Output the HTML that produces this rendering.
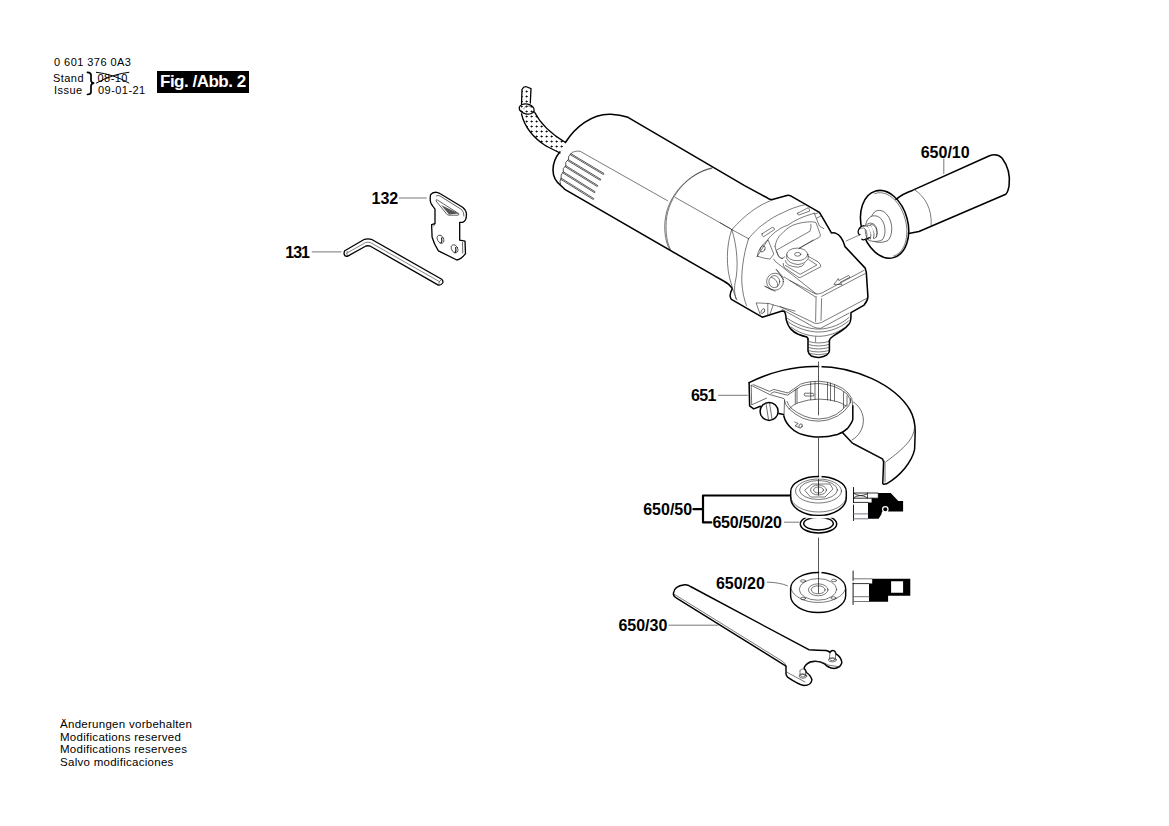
<!DOCTYPE html>
<html><head><meta charset="utf-8">
<style>
html,body{margin:0;padding:0;background:#fff;width:1169px;height:826px;overflow:hidden}
.t{position:absolute;font-family:"Liberation Sans",sans-serif;color:#000;white-space:nowrap;line-height:1}
.s{font-size:11px;letter-spacing:0.45px}
.b{font-size:16px;font-weight:bold}
svg{position:absolute;left:0;top:0}
</style></head><body>
<div class="t s" style="left:54px;top:57px">0 601 376 0A3</div>
<div class="t s" style="left:53px;top:73px">Stand</div>
<div class="t s" style="left:54px;top:85px">Issue</div>
<div class="t s" style="left:97.5px;top:73px">08-10</div>
<div class="t s" style="left:98px;top:85px">09-01-21</div>
<div style="position:absolute;left:157px;top:71px;width:92px;height:22px;background:#000"></div>
<div class="t" style="left:160px;top:73px;font-size:17px;font-weight:bold;color:#fff;letter-spacing:-0.5px">Fig. /Abb. 2</div>
<div class="t" style="left:60px;top:718px;line-height:12.7px;font-size:11.5px;letter-spacing:0.28px">Änderungen vorbehalten<br>Modifications reserved<br>Modifications reservees<br>Salvo modificaciones</div>
<div class="t b" style="left:371.5px;top:191px;">132</div>
<div class="t b" style="left:285.3px;top:245.2px;letter-spacing:-1px;">131</div>
<div class="t b" style="left:920.7px;top:144.5px;">650/10</div>
<div class="t b" style="left:691px;top:388.4px;letter-spacing:-0.7px;">651</div>
<div class="t b" style="left:643.2px;top:501.9px;">650/50</div>
<div class="t b" style="left:712.4px;top:515.2px;letter-spacing:-0.2px;">650/50/20</div>
<div class="t b" style="left:715.9px;top:575.9px;">650/20</div>
<div class="t b" style="left:618.4px;top:618.1px;">650/30</div>
<svg width="1169" height="826" viewBox="0 0 1169 826" fill="none" stroke="#000" stroke-linejoin="round" stroke-linecap="round">
<!-- brace -->
<path d="M87.4,72.3 Q91,72.5 91,75 L91,80.4 Q91.2,82.8 93.6,83.2 Q91.2,83.6 91,86 L91,92 Q91,94.4 87.4,94.5" stroke-width="1.7"/>
<path d="M96.4,72.3 Q113,74 128.9,83 M96.4,83 Q113,74 128.9,72.3" stroke-width="1"/>
<!-- cord -->
<defs><pattern id="dots" width="5" height="5" patternUnits="userSpaceOnUse"><circle cx="1.5" cy="1.5" r="0.55" fill="#aab"/></pattern></defs>
<path d="M522,114 Q526,133 546,146 L560,153 L565.5,142.5 Q543,129 534.5,112 Z M522,104 L522,89.5 L531,88.7 L530.3,103 Z M519.5,109 A7.5,5 0 0 1 534.5,109 A7.5,5 0 0 1 519.5,109 Z" fill="url(#dots)" stroke="none"/>

<g stroke-width="1.3">
<path d="M521.5,104.5 L522,89.5 Q524,85.8 527,87 L531,88.7 L530.3,103"/>
<ellipse cx="526.7" cy="109" rx="7.6" ry="4.9" transform="rotate(12 526.7 109)"/>
<path d="M521.5,114 Q526,133 546,146 L560,153"/>
<path d="M534.5,112 Q543,129 565.5,142.5"/>
</g>
<g stroke-width="0.6" stroke="#444">
<path d="M523.5,109 Q526,104 531,107"/>
</g>
<!-- body outline -->
<g stroke-width="1.55">
<path d="M565.4,142.5 C575,127 592,113.5 610.8,114.2 Q620,114.5 628,117.3 L745,185.9 L767.2,197.8 Q770,199.8 772.4,199.5 L787.8,195.3 Q789,195.2 790.3,195.7 L819.4,212.4 L822,216.7 L831.4,232.9 Q833,232.5 835,232.9 Q839,234.5 840.8,237.2 Q843.5,241 845,246.6 L865.2,268.1 L866.3,272.4 L867.9,296.4 Q867.8,300.5 864.1,305.1 L851,312.7 Q850.9,316 850.9,318.2 Q850,324 849,324 Q846,328 841.8,330.5 Q838,333 833.8,335.6 Q830,338 829.4,340.7"/>
<path d="M559.7,152 C551,163 550,178 561.2,185.8 L565.2,189.7 L715,276.2 Q726,282 728.7,284.4 Q732.5,288 732.1,289.2 Q730,293 730.1,296 Q730.5,298.5 731.4,299.4 L762.2,317.2 L782.1,311.1 L784.4,311.6 Q785.8,313 786.2,319.6 Q788,326 790.9,329.1 Q794,332.5 798.2,334.2 Q803,336 806.9,337.1 Q808,338 808,339.2"/>
<path d="M808,339.2 L808,350.9 Q808.5,354.5 811.3,356 Q815,357.6 819.2,357.4 Q824,357 826.5,355.2 Q829.4,353 829.4,350.9 L829.4,340.7"/>
</g>
<!-- vents -->
<g stroke-width="0.75" stroke="#222">
<path d="M570.9,153.7 L603.8,173.4 Q604.0999999999999,174.6 603.1999999999999,174.4 L570.3,154.7"/>
<path d="M568.3,159.6 L600.6,179.2 Q600.9,180.39999999999998 600.0,180.2 L567.6999999999999,160.6"/>
<path d="M565.8,165.7 L597.6,185.4 Q597.9,186.6 597.0,186.4 L565.1999999999999,166.7"/>
<path d="M563.3,171.8 L595.0,191.6 Q595.3,192.79999999999998 594.4,192.6 L562.6999999999999,172.8"/>
<path d="M561.2,178.2 L593.6,198.4 Q593.9,199.6 593.0,199.4 L560.6,179.2"/>
<path d="M572,152.8 Q567.5,155.5 568.3,159.6 Q564.5,162 565.8,165.7 Q562,168.5 563.3,171.8 Q560,175 561.2,178.2 Q559,181 560.5,184.5"/>
</g>
<g stroke-width="0.6" stroke="#222">
<path d="M572.5,152.2 Q576,150.5 580,151.2 L667.5,200.7"/>
<path d="M675.2,197.4 L730.4,228.6"/>
<path d="M712.9,167.6 C690,172 667,195 665,221.3 C664,233 666,243 669.4,249"/>
<path d="M711.5,168.5 C689,173 668,196 666.2,221.3 C665.5,233 667,243 670.5,249.5"/>
<path d="M720,222.7 L731.8,229.6"/>
<!-- head thin -->
<path d="M731.8,229.6 C745,215 758,205 772.4,200"/>
<path d="M731.8,229.6 L748.6,238.7"/>
<path d="M748.4,238.9 C754,232 760,226.5 762.1,225.2 C770,219 777,215 783.5,212.4 C790,209 798,206 804.9,204.7"/>
<path d="M768.1,238.9 C775,231 782,227 787.8,225.2 C795,220 803,216.5 811.7,214.1 L814.3,213.2"/>
<path d="M731.8,229.6 C726,245 726,268 731,283 C733,290 735,296 737,300"/>
<path d="M731.8,229.6 C737,245 739,268 735,283 C734,290 735,296 736,299"/>
<path d="M748.6,238.7 C743,255 741,275 742,285 C743,295 745,302 746.6,305.6"/>
<path d="M757.3,256.2 L768,239.7 L773.8,254.2 L769.9,259.1 Q764,258.5 757.3,256.2 Z"/>
<path d="M757.3,256.2 Q758,248 768,239.7"/>
<ellipse cx="762.6" cy="248.9" rx="2.3" ry="3.3" transform="rotate(30 762.6 248.9)"/>
<path d="M762.1,233.8 L772.4,227.3 Q774.5,227.5 774.5,229.5 L763.4,236.8 Q761.5,236 762.1,233.8Z"/>
<path d="M797.6,213.2 L808.3,207.7 Q809.6,209 809.6,211.1 L798.9,215 Q797,214.5 797.6,213.2Z"/>
<path d="M775,246.6 C776,241 778,237 780.9,234.6 C785,230 789,227 792.9,225.2 C800,222.5 806,221.8 811.7,221.8 Q814,221.8 816,222.6 L820.3,234.6 Q820.5,236.5 819.4,237.2 L798.9,248.3"/>
<path d="M776.7,250 L810,231.2 Q811.5,227 810.9,224.3"/>
<path d="M775,246.6 Q776,252 778.6,256.2 Q780,258.5 782.5,258.6"/>
<path d="M814.3,213.2 L819.4,226 L823.7,228.6"/>
<path d="M819.4,212.4 L815,214 M821,216 L817,218"/>
<path d="M773.8,259.1 L775,261.2 L816.4,294"/>
<path d="M776.7,269.7 L783.4,277.5"/><path d="M796.8,285 L815.4,296.9"/>
<path d="M765,286.2 L771.8,290"/>
<ellipse cx="775" cy="281.7" rx="8.4" ry="8.5"/>
<ellipse cx="774.3" cy="281.6" rx="5.4" ry="6"/>
<path d="M771.5,277.5 Q775.5,278 777.5,283.5 Q778,286 777,287"/>
<path d="M765,286.4 L775.2,291.2"/>
<ellipse cx="797.2" cy="254.4" rx="10.5" ry="6.3"/>
<ellipse cx="797.7" cy="254.3" rx="3.1" ry="1.9"/>
<path d="M786.7,254.7 L786.7,258.5 Q789,263.5 797.9,264.5 Q805,264 808.2,258.5 L808.2,254.4"/>
<path d="M785.3,260.7 Q786,266.5 797.9,267.2 Q802,267 804.4,264"/>
<path d="M783.2,263.4 Q783,266.5 785,268 L799,277.6 Q801,277.5 802.2,276.5 L820.8,266.7 Q821,264 818,261.8 L808.2,256.3"/>
<path d="M785.5,265.5 L800.1,274.3 L816.9,265 L808.8,259.6"/>
<path d="M776.1,269.4 L783.7,279.8"/>
<path d="M784.3,277 L796.8,285"/>
<path d="M776.6,250.9 Q778,257 781,258.5 Q783,258.5 784.8,256.9"/>
<path d="M799.5,248.2 L813.1,240"/>
<path d="M834.1,284 L838.3,278.6 L838.8,280.6 L848.6,275.4 L850,277.2 L840.3,282.3 L841.8,284.3 Z"/>
<path d="M790,280.6 L815.1,293.7 Q818,294.5 821.6,293.1 L864.1,270.3"/>
<path d="M821.6,296.4 L865.2,273.5"/>
<path d="M816.1,296.4 L815.6,321.5"/><path d="M821.6,298.6 L821,320.4"/>
<path d="M780,306.5 L814.9,323.3 Q818,324 821.4,322.5 L866.3,298.6"/><path d="M782.2,309.4 L813.4,326.9 Q817,328.5 820.7,328.3 L849,313.1"/>
<path d="M787.3,318.2 C795,324 808,329.1 818.5,329.1 C830,329.1 842,324 849,317.4"/>
<path d="M787.8,321.5 C795,327.5 808,332 818.5,332 C830,332 841,327.5 848.5,321"/>
<path d="M791,327 C798,332.5 808,336.3 818.5,336.3 C828,336.3 837,333 844,328"/>
<path d="M808.5,341.5 Q818.5,344.5 829,341.5"/><path d="M808.3,344.5 Q818.5,347.5 829,344.5"/><path d="M808.2,347.5 Q818.5,350.5 829,347.5"/><path d="M808.2,350.5 Q818.5,353.5 829,350.5"/><path d="M809,353.5 Q818.5,356 828.5,353.5"/>
<path d="M815.6,337 L815.6,341.5"/>
<path d="M760.2,314.5 L756.1,302.9 L769.1,303.5 L773.2,304.9 L795,311.1"/>
<path d="M773.2,304.9 L769.5,315.5 M767.8,303.5 L767.8,315.8"/>
<ellipse cx="762.9" cy="311.1" rx="1.5" ry="2.6" transform="rotate(30 762.9 311.1)"/>

</g>
<!-- hex key 131 -->
<g stroke-width="1.3">
<path d="M344.8,250.7 L364.5,239.3 Q368,238.3 371.4,239.3 L441.7,279.2 Q443.5,281 442.7,283 Q441,285.5 438.3,285.1 L370.4,246.2 Q367.5,245.3 365.5,246.2 L347.8,256.1 Q345,256.8 344.2,254.5 Q343.8,252 344.8,250.7 Z"/>
</g>
<g stroke-width="0.6" stroke="#333"><path d="M346.5,253.3 L365.5,242.6 Q368,241.8 370.5,242.6 L439.8,281.8"/><path d="M438.8,284.8 Q437.8,281.5 441.5,279.5"/><path d="M347.6,256 Q346,253.5 347.2,251.5"/></g>
<!-- plate 132 -->
<g stroke-width="1.3">
<path d="M430.6,194.7 Q432.5,192 436.5,192.3 Q438.5,192.5 440.3,193.7 L462.6,207.3 Q466,210 466.5,214 Q466.5,218 465.5,219.8 Q464,221.8 462.6,222.3 L459.7,222.3 L459.7,240.2 L465,241.1 L465.5,253.7 Q461,259.5 456.8,260 L438.4,250.8 Q434,244 432.1,237.3 L431.6,224.7 L435,223.7 L435,209.2 Q431,204 430.6,202.4 Q429.8,199 430.6,194.7 Z"/>
</g>
<path d="M441,205 L458.7,213.6 L449,214.5 Z" fill="#555" stroke="none"/>
<g stroke-width="0.7" stroke="#222">
<path d="M436,200.5 Q436,199 437.4,200 L458.7,213.6 Q459.5,215 458,215.2 L449,215.2 Q447.5,215.5 446.5,214 Z"/>
<path d="M436.5,195.8 Q438,195 440,196 L461.5,209.5 Q464,212 464,216"/>
<ellipse cx="440.5" cy="239.2" rx="3" ry="4.3" transform="rotate(-25 440.5 239.2)"/>
<ellipse cx="454.6" cy="248.8" rx="3" ry="4.3" transform="rotate(-25 454.6 248.8)"/>
<path d="M441.5,238 Q442.5,241 441,243 M455.6,247.6 Q456.6,250.6 455.1,252.6" stroke-width="1.2"/>
<path d="M462.5,242.5 L462.8,253"/>
<path d="M434.5,224.5 L433.8,226"/>
</g>
<!-- leaders -->
<g stroke-width="0.8" stroke="#555">
<path d="M399.3,198 L426.3,198"/>
<path d="M312.2,251.9 L341,251.9"/>
<path d="M943.8,159 L943.8,173.5"/>
<path d="M718.5,395.3 L747.4,395.3"/>
<path d="M784.4,522.2 L799,522.2"/>
<path d="M767.2,582.1 Q780,582.5 787.5,585.8"/>
<path d="M669,625.2 L717.9,625.2"/>
</g>
<g stroke-width="2.2" fill="none">
<path d="M790.6,495.5 L703,495.5 L703,522.4 L711.2,522.4"/>
<path d="M693.4,509.2 L703,509.2"/>
</g>
<!-- handle 650/10 -->
<g stroke-width="1.55">
<path d="M896,199.3 Q903,193.5 912.4,190.4 L989.5,155.7 Q997,153 1002,158 Q1011,170 1009.1,185.6 Q1008,192 1005.8,194.3 L919,231.5 L908.6,233.6"/>
<ellipse cx="884.6" cy="224.3" rx="23.2" ry="34.5" transform="rotate(-15 884.6 224.3)"/>
</g>
<g stroke-width="0.6" stroke="#222">
<path d="M914.7,189.8 C925,197 932,208 931.2,225.3"/>
<path d="M874.7,193.7 L877.5,192.9 L880.5,192.7 L883.5,193.1 L886.6,194.1 L889.6,195.7 L892.6,197.9 L895.4,200.6 L897.9,203.7 L900.3,207.3 L902.3,211.2 L904.0,215.4 L905.3,219.7 L906.3,224.2 L906.8,228.6 L906.8,233.0 L906.5,237.2 L905.7,241.2 L904.6,244.8 L903.0,248.0 L901.1,250.8 L898.9,253.1 L896.4,254.9 L893.7,256.0"/>
</g>
<path d="M864.5,225 L871,222.5 L877,226 L877,238.5 L870,238.5 L862,240.5 L858.5,235 L858.5,228 Z" fill="#fff" stroke="none"/>
<g stroke-width="0.65" stroke="#222" fill="#fff">
<path d="M873,240.8 C868,236 868,218 874.5,212 C878,209 884,210 888,216 C893,223 893,235 888,240.5 C883,243 876,243 873,240.8 Z"/>
<path d="M868,239.7 C864,234 864,222 869.5,217.5 C873,214.5 879,215.5 882,220 C886,226 886,236 882,240 C878,242 871,242 868,239.7 Z"/>
<path d="M865.5,225.8 C868,222 874,222 876,227 C878,232 877.5,237 874.5,238.5"/>
<path d="M863.5,226.5 Q866.5,224.5 869.5,228.5 Q872,233 870.5,239"/>
<path d="M867.5,225.5 Q870.5,224 873,228.5 Q875,233 873.5,238.5"/>
<path d="M870.5,224.5 Q874,223.5 876,228 Q877.5,232 876.5,237"/>
</g>
<g stroke-width="1.3" fill="#fff">
<path d="M864.1,225.7 Q859,226.5 858.1,231.5 Q858.1,234 859.5,234.8 M861.9,239.3 Q863.5,240.8 869.5,237.7"/>
</g>
<g stroke-width="0.6" stroke="#333"><path d="M846.1,241 L860.8,234.4"/><path d="M860,229 Q864,226 866.5,231 Q868,236 866,239"/></g>
<!-- guard 651 -->
<g stroke-width="1.5">
<path d="M749.1,382.7 C770,372 795,366 816.3,366.4 C855,366 895,385 910,410 C914,417 915.2,425 915.2,432 L914.6,449.4 C912,462 900,476 886.5,483.8 Q882,485 882.8,482.3 L883.6,462 L882.5,458.8 L852,442.8 L842.5,432.5"/>
<path d="M749.1,382.7 L749.6,405.8 L753.7,408.9 L760.4,406.3"/>
<path d="M783.8,416 C786,425 795,433 802.5,434.5 C810,436.5 814,437.1 818.9,437.1 C826,437.1 832,436 837.4,434.5 C842,433 846,430 847.6,428.4 C851,424 852.8,421 852.8,419.1 L852.8,405.8"/>
<path d="M778.9,413.5 L783.5,414.5"/>
<circle cx="769.1" cy="411.4" r="9"/>
</g>
<g stroke-width="0.65" stroke="#222">
<path d="M751.2,385.3 L751.7,404.8 L766.6,398.1"/>
<path d="M751.2,385.3 L769.6,394.5 L784,398.6 Q785,400 784.5,401 L784,416"/>
<path d="M753,384.5 L769.6,391.4 L773.7,389.4 L788.1,393 L800.4,384.2 Q805,382.5 810.7,381.7 L818.9,381.2 L827.1,382.2 Q835,384 842.5,388.3 Q849,392.5 851.8,398.6 L852.8,405.8"/>
<path d="M771,393.5 L774,391.8 L787.5,395.2 L800.5,386.5 Q806,384 818.9,383.5 Q836,384.5 847,394 Q851,399 850.7,403"/>
<path d="M784.5,400.7 Q785,405 789.1,408.9 Q795,414.5 802.5,418.1 Q810,421.2 818.9,421.2 Q828,421.2 837.4,416.1 Q845,411.5 848.7,405.8 Q851,401.5 850.7,398.6"/>
<path d="M787,401.5 Q788,405 791.5,408.5 Q797,413 804,416 Q811,419 818.9,419 Q828,419 836,414.5 Q843,410 846.5,405"/>
<path d="M789.1,408.9 Q793,404.5 798.4,402.7 Q808,399.3 818.9,399.1 Q829,399.1 837.4,401.7 Q842,403 846,406"/>
<path d="M795.3,389.5 L795.3,403.5 M797,388.5 L797,403 M810.7,382 L810.7,399.5 M815,381.5 L815,399.3 M827.5,382.5 L827.5,400 M830.5,383 L830.5,400.5 M834.5,385 L834.5,401 M843.5,392 L843.5,408 M847,396 L847,406"/>
<path d="M804.5,393.5 Q803.5,395.5 805,396 L813.5,396 Q814.5,394 813.5,393.5 Z"/>
<path d="M766,403.5 L768.5,419.5 M769.5,403 L772,419"/>
<path d="M794.8,422 L798.2,423.6 L795,425.8 L798.4,427.4"/><ellipse cx="800.6" cy="426" rx="1.5" ry="2.3" transform="rotate(25 800.6 426)"/>
<path d="M853.4,402 C868,412 866,432 852,440"/>
<path d="M886,461.7 C905,448 914,438 914.4,428.3"/>
<path d="M843.5,434 L853,444 L883,459.5 L885,462 L885,482"/>
</g>
<!-- center lines -->
<g stroke-width="0.9" stroke="#444">
<path d="M818.5,362 L818.5,415"/>
<path d="M818.5,437 L818.5,495"/>
<path d="M818.5,538 L818.5,593"/>
</g>
<!-- flange 650/50 -->
<g stroke-width="1.45">
<ellipse cx="818.5" cy="523.9" rx="18.2" ry="9"/>
<ellipse cx="818.5" cy="523.6" rx="14.8" ry="6.4"/>
<path d="M790.7,491.4 A27.8,15 0 0 1 846.3,491.4 L846.3,498 A27.8,17.5 0 0 1 790.7,498 Z" fill="#fff"/>
</g>
<path d="M803,516.3 Q818.5,518.5 834,516.3" stroke="#fff" stroke-width="2.6"/>
<path d="M818.5,479.5 L818.5,495" stroke-width="0.9" stroke="#222"/>
<g stroke-width="0.6" stroke="#222">
<path d="M791,497 A27.5,15 0 0 0 846,497"/>
<ellipse cx="818.5" cy="491" rx="23" ry="12"/>
<ellipse cx="818.5" cy="490" rx="19" ry="9.5"/>
<path d="M805,490 L812,484 L830,484 L833,489 L825,497 L811,497 Z"/>
<ellipse cx="818.5" cy="490" rx="8" ry="5"/>
<ellipse cx="818.5" cy="490" rx="5" ry="3"/>
</g>
<!-- flange 650/20 -->
<g stroke-width="1.4">
<path d="M790.6,588.6 A27.5,16 0 0 1 845.7,588.6 L845.7,595.5 A27.5,17 0 0 1 790.6,595.5 Z"/>
</g>
<g stroke-width="0.6" stroke="#222">
<path d="M791,588.6 A27.5,16 0 0 0 845.5,588.6"/>
<ellipse cx="818" cy="589.4" rx="18.7" ry="10.8"/>
<ellipse cx="818.2" cy="589.8" rx="9.8" ry="6"/>
<ellipse cx="818.2" cy="589.8" rx="7" ry="4"/>
<ellipse cx="803" cy="581" rx="2.5" ry="1.3"/><ellipse cx="834" cy="580.5" rx="2.5" ry="1.3"/>
<ellipse cx="803" cy="598.5" rx="2.5" ry="1.3"/><ellipse cx="833.5" cy="598" rx="2.5" ry="1.3"/>
</g>
<!-- wrench 650/30 -->
<g stroke-width="1.45">
<path d="M673.6,592.8 Q674,586 684.7,584.7 Q688,584.5 690.5,586.5 L808.8,649.7 Q818,650.5 826.1,650.5 Q829,651 830,652.5 Q831,650.5 832.8,650.5 Q835,650.5 835.5,652.5 L836,654 Q841.5,657 841.8,663 Q840,668 834,668.5 Q828,668 824.5,663.8 Q818,660 810,662 Q805,664.5 804.1,668.2 Q806,671 806.4,672.5 Q811,675.5 811.9,680 Q811,685.5 804,685.5 Q799,685 787.5,677.2 Q785.5,674 786,672.5 L786,666.2 L783.6,664.6 L677,598.4 Q672.5,596 673.6,592.8 Z"/>
</g>
<g stroke-width="0.6" stroke="#222">
<path d="M674.2,594.2 L782,661 Q786,663 786.5,667"/>
<path d="M786.5,672 L805,682"/>
<path d="M805,666 Q810,661 818,661.5 Q824,662 828,665 L840,667"/>
<path d="M830,652.5 L829.5,658.5 M835.5,652.5 L835.5,658.5"/>
<ellipse cx="832.4" cy="659.8" rx="4" ry="2.1"/>
<ellipse cx="832.4" cy="659.5" rx="2.5" ry="1.2"/>
<path d="M800,670.5 L800,675.5 M805.6,670 L805.6,675.5 M800,670.5 Q802.5,667.5 805.6,670"/>
<ellipse cx="802.9" cy="676" rx="3.8" ry="2.3"/>
<ellipse cx="802.9" cy="675.7" rx="2.4" ry="1.3"/>
</g>
<!-- icon 1 -->
<g>
<path d="M878.3,493 L890.7,493 L898.3,500.9 L903.1,500.9 L903.1,511.5 L882,511.5 L881.3,514.5 L878.6,518.8 L868,518.8 L868,502.4 L872,502.4 L872,498.2 L878.3,498.2 Z" fill="#000" stroke="none"/>
<circle cx="885.3" cy="509.3" r="3.3" fill="#fff" stroke="none"/>
<circle cx="885.3" cy="509.3" r="2" fill="#000" stroke="none"/>
<path d="M853.5,487.5 L853.5,502.5 M853.5,505 L853.5,520.5" stroke-width="0.9"/>
<path d="M853.5,493 L878.3,493 L878.3,498.2 L853.5,498.2 M853.5,502.4 L868,502.4 M872,498.2 L872,502.4" stroke-width="0.8"/>
<path d="M854,493.5 Q860,497.5 867,494 M854,497.5 Q860,493.5 867,497.5 M867.5,493 L867.5,498.2" stroke-width="0.7"/>
<path d="M853.5,513.9 L868,513.9 M853.5,518.8 L868,518.8" stroke-width="0.9" stroke="#667"/>
</g>
<!-- icon 2 -->
<g>
<path d="M872.2,578.8 L910.3,578.8 L910.3,595.8 L888.1,595.8 L888.1,601.8 L869,601.8 L869,583.6 L872.2,583.6 Z M891.1,581.2 L891.1,592.8 L903.1,592.8 L903.1,581.2 Z" fill="#000" stroke="none" fill-rule="evenodd"/>
<path d="M853.1,571 L853.1,580.5 M853.1,583 L853.1,604.5" stroke-width="0.9"/>
<path d="M853.1,578.8 L872.2,578.8" stroke-width="0.9" stroke="#666"/>
<path d="M853.1,583.6 L869,583.6" stroke-width="0.8"/>
<path d="M853.1,596.7 L869,596.7 M853.1,601.5 L869,601.5" stroke-width="0.9" stroke="#666"/>
</g>
<!-- rim gaps -->
<g fill="#fff" stroke="none">
<rect x="819.2" y="364.3" width="2.3" height="4"/>
<rect x="819.2" y="474.3" width="2.3" height="4"/>
<rect x="819.2" y="570.6" width="2.3" height="4"/>
</g>

</svg>
</body></html>
